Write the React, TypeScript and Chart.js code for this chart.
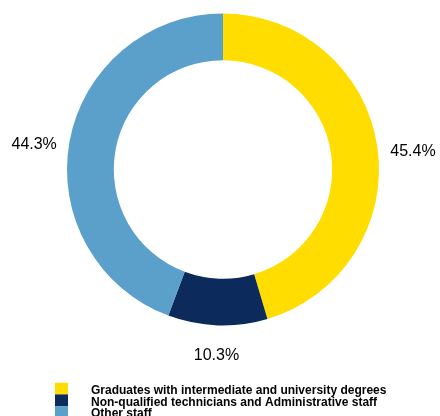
import React, { useEffect, useRef } from "react";
import { Chart, registerables } from "chart.js";

Chart.register(...registerables);

const categories = [
  "Graduates with intermediate and university degrees",
  "Non-qualified technicians and Administrative staff",
  "Other staff",
];
const values = [45.4, 10.3, 44.3];
const valueLabels = ["45.4%", "10.3%", "44.3%"];
const colors = ["#FFDD00", "#0C2A5B", "#5AA0CB"];

const FONT = '"Liberation Sans", Arial, sans-serif';

const labelPlugin = {
  id: "outerLabels",
  afterDatasetsDraw(chart: any) {
    const ctx = chart.ctx;
    const meta = chart.getDatasetMeta(0);
    ctx.save();
    ctx.font = `16px ${FONT}`;
    ctx.fillStyle = "#000";
    ctx.textAlign = "center";
    ctx.textBaseline = "middle";
    meta.data.forEach((arc: any, i: number) => {
      const mid = (arc.startAngle + arc.endAngle) / 2;
      const c = Math.cos(mid);
      const s = Math.sin(mid);
      const r = arc.outerRadius + 34.5 + 1.5 * (c * c - s * s);
      const x = arc.x + c * r;
      const y = arc.y + s * r + 10 * c * c - 3 * s * s;
      ctx.fillText(valueLabels[i], x, y);
    });
    ctx.restore();
  },
};

const legendPlugin = {
  id: "customLegend",
  afterDraw(chart: any) {
    const ctx = chart.ctx;
    ctx.save();
    ctx.font = `bold 12px ${FONT}`;
    ctx.textAlign = "left";
    ctx.textBaseline = "alphabetic";
    const top = 382.7;
    const rowH = 11.7;
    categories.forEach((c, i) => {
      const y = top + i * rowH;
      ctx.fillStyle = colors[i];
      ctx.fillRect(55, y, 13, rowH);
      ctx.fillStyle = "#000";
      ctx.fillText(c, 91, y + 11.2);
    });
    ctx.restore();
  },
};

export default function App() {
  const ref = useRef<HTMLCanvasElement>(null);
  useEffect(() => {
    if (!ref.current) return;
    const chart = new Chart(ref.current, {
      type: "doughnut",
      data: {
        labels: categories,
        datasets: [
          {
            data: values,
            backgroundColor: colors,
            borderWidth: 0,
          },
        ],
      },
      options: {
        responsive: false,
        animation: false,
        cutout: "70%",
        layout: { padding: { left: 67, right: 61, top: 13.5, bottom: 90.5 } },
        plugins: {
          legend: { display: false },
          tooltip: { enabled: false },
        },
      },
      plugins: [labelPlugin, legendPlugin],
    });
    return () => chart.destroy();
  }, []);
  return (
    <div style={{ position: "fixed", left: 0, top: 0, width: 440, height: 416, background: "#fff" }}>
      <canvas ref={ref} width={440} height={416} style={{ width: 440, height: 416 }} />
    </div>
  );
}
